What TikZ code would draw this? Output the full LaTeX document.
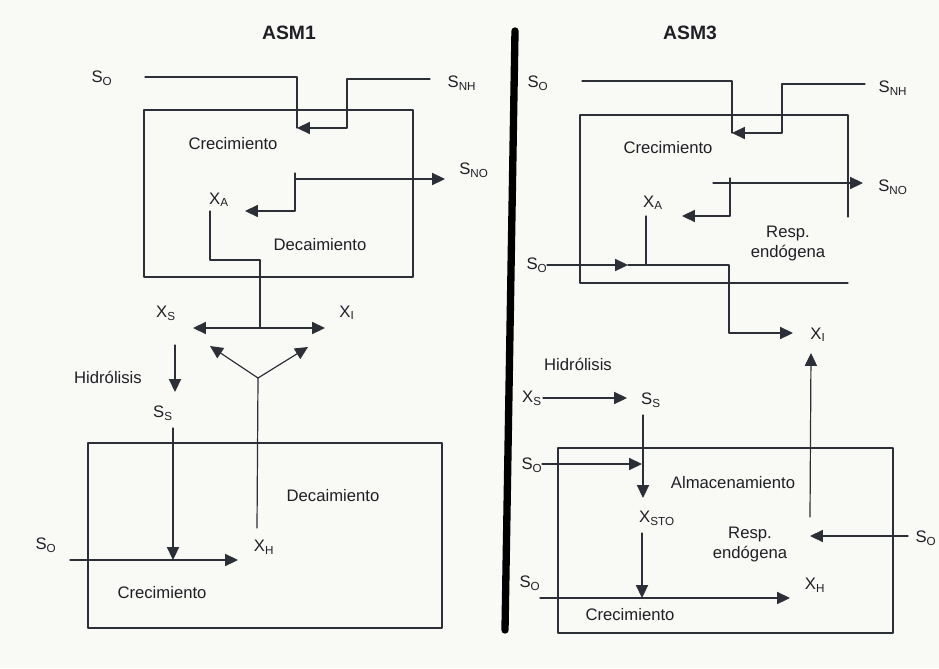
\documentclass[tikz,border=0pt]{standalone}
\usepackage{fontspec}
\setmainfont{Liberation Sans}
\usepackage{xcolor}
\usepackage{tikz}
\usetikzlibrary{arrows.meta}
\definecolor{asmInk}{HTML}{1F2026}
\definecolor{asmLine}{HTML}{2C2F38}
\definecolor{asmPaper}{HTML}{F9F9F6}
\tikzset{
  asm diagram/.style={x=0.75pt, y=-0.75pt, text=asmInk,
    font=\fontsize{12.5}{15}\selectfont, line cap=round, line join=round},
  asm label/.style={inner sep=0pt, align=center},
  asm title/.style={inner sep=0pt, font=\fontsize{14.5}{16}\selectfont\bfseries},
  asm box/.style={draw=asmLine, line width=0.9pt},
  asm line/.style={draw=asmLine, line width=0.9pt},
  asm arrow/.style={asm line, -{Triangle[length=3.4mm,width=3.2mm]}},
  asm biarrow/.style={asm line, {Triangle[length=3.4mm,width=3.2mm]}-{Triangle[length=3.4mm,width=3.2mm]}},
  asm divider/.style={draw=black, line width=5.5pt}
}

\begin{document}
\begin{tikzpicture}[asm diagram]
\useasboundingbox[fill=asmPaper] (0,0) rectangle (939,668);
% ASM1
\node[asm title] (asm1) at (289,33) {ASM1};
\node[asm label] (so1) at (102,78) {S\textsubscript{O}};
\node[asm label] (snh1) at (462,83) {S\textsubscript{NH}};
\node[asm label] (crec1) at (233,144) {Crecimiento};
\node[asm label] (sno1) at (474,170) {S\textsubscript{NO}};
\node[asm label] (xa1) at (219,200) {X\textsubscript{A}};
\node[asm label] (dec1) at (320,245) {Decaimiento};
\node[asm label] (xs1) at (166,313) {X\textsubscript{S}};
\node[asm label] (xi1) at (347,313) {X\textsubscript{I}};
\node[asm label] (hid1) at (108,377) {Hidrólisis};
\node[asm label] (ss1) at (163,413) {S\textsubscript{S}};
\node[asm label] (dec2) at (333,496) {Decaimiento};
\node[asm label] (so2) at (46,545) {S\textsubscript{O}};
\node[asm label] (xh1) at (264,547) {X\textsubscript{H}};
\node[asm label] (crec2) at (162,593) {Crecimiento};
\coordinate (in1) at (297,128);
\coordinate (split1) at (260,328);
\coordinate (fork1) at (258,378);
\draw[asm box] (144,110) rectangle (413,277);
\draw[asm box] (88,443) rectangle (442,628);
\draw[asm line] (145,77) -| (in1);
\draw[asm arrow] (430,79) -- (347,79) -- (347,128) -- (in1);
\draw[asm arrow] (295,179) -- (445,179);
\draw[asm arrow] (295,173) |- (245,211);
\draw[asm line] (210,211) -- (210,260) -| (split1);
\draw[asm biarrow] (193,328) -- (325,328);
\draw[asm arrow] (fork1) -- (210,346);
\draw[asm arrow] (fork1) -- (308,347);
\draw[asm line] (fork1) -- (257,528);
\draw[asm arrow] (175,345) -- (175,392);
\draw[asm arrow] (173,428) -- (173,560);
\draw[asm arrow] (70,560) -- (238,560);
% divider
\draw[asm divider] (515,31) -- (505,630);
% ASM3
\node[asm title] (asm3) at (690,33) {ASM3};
\node[asm label] (so3) at (538,83) {S\textsubscript{O}};
\node[asm label] (snh3) at (893,88) {S\textsubscript{NH}};
\node[asm label] (crec3) at (668,148) {Crecimiento};
\node[asm label] (sno3) at (893,187) {S\textsubscript{NO}};
\node[asm label] (xa3) at (653,203) {X\textsubscript{A}};
\node[asm label] (resp3) at (788,243) {Resp.\\endógena};
\node[asm label] (so4) at (537,265) {S\textsubscript{O}};
\node[asm label] (xi3) at (818,335) {X\textsubscript{I}};
\node[asm label] (hid3) at (578,364) {Hidrólisis};
\node[asm label] (xs3) at (532,398) {X\textsubscript{S}};
\node[asm label] (ss3) at (651,400) {S\textsubscript{S}};
\node[asm label] (so5) at (532,465) {S\textsubscript{O}};
\node[asm label] (alm3) at (733,483) {Almacenamiento};
\node[asm label] (xsto3) at (657,518) {X\textsubscript{STO}};
\node[asm label] (resp4) at (750,544) {Resp.\\endógena};
\node[asm label] (so6) at (926,538) {S\textsubscript{O}};
\node[asm label] (so7) at (530,583) {S\textsubscript{O}};
\node[asm label] (xh3) at (815,585) {X\textsubscript{H}};
\node[asm label] (crec4) at (630,615) {Crecimiento};
\coordinate (in3) at (732,133);
\coordinate (mid3) at (628,265);
\draw[asm box] (848,217) -- (848,115) -- (580,115) -- (580,283) -- (848,283);
\draw[asm box] (558,448) rectangle (893,633);
\draw[asm line] (582,81) -| (in3);
\draw[asm arrow] (865,84) -- (782,84) -- (782,133) -- (in3);
\draw[asm arrow] (713,183) -- (863,183);
\draw[asm arrow] (730,178) |- (682,216);
\draw[asm line] (646,216) -- (646,265);
\draw[asm arrow] (547,265) -- (mid3);
\draw[asm arrow] (mid3) -- (729,265) -- (729,333) -- (793,333);
\draw[asm arrow] (810,517) -- (811,353);
\draw[asm arrow] (543,398) -- (627,398);
\draw[asm arrow] (643,415) -- (643,498);
\draw[asm arrow] (542,464) -- (642,464);
\draw[asm arrow] (642,533) -- (642,598);
\draw[asm arrow] (908,536) -- (810,536);
\draw[asm arrow] (540,598) -- (790,598);
\end{tikzpicture}
\end{document}
